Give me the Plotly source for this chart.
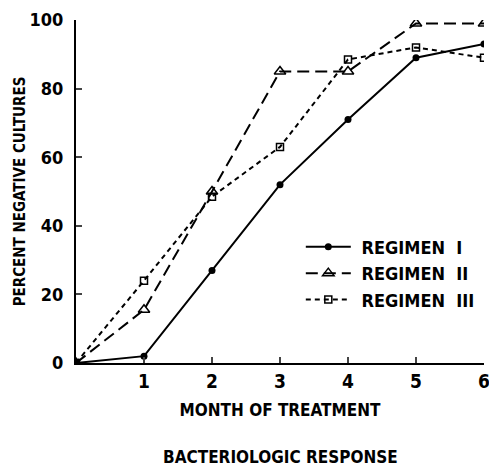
import plotly.graph_objects as go

months = [0, 1, 2, 3, 4, 5, 6]
regimen_1 = [0, 2, 27, 52, 71, 89, 93]
regimen_2 = [0, 15.5, 50, 85, 85, 99, 99]
regimen_3 = [0, 24, 48.5, 63, 88.5, 92, 89]
names = [" REGIMEN  I", " REGIMEN  II", " REGIMEN  III"]

FONT = "DejaVu Sans Condensed, Liberation Sans Narrow, Arial Narrow, sans-serif"

fig = go.Figure()
fig.add_trace(go.Scatter(
    x=months, y=regimen_1, name=names[0], mode="lines+markers",
    line=dict(color="black", width=2, dash="solid"),
    marker=dict(symbol="circle", size=7, color="black"),
))
fig.add_trace(go.Scatter(
    x=months, y=regimen_2, name=names[1], mode="lines+markers",
    line=dict(color="black", width=2, dash="12px,6px"),
    marker=dict(symbol="triangle-up-open", size=10, color="black", line=dict(width=1.5)),
))
fig.add_trace(go.Scatter(
    x=months, y=regimen_3, name=names[2], mode="lines+markers",
    line=dict(color="black", width=2, dash="5px,4px"),
    marker=dict(symbol="square-open", size=7, color="black", line=dict(width=1.5)),
))

fig.update_layout(
    width=489, height=468,
    margin=dict(l=76, r=5, t=20, b=105),
    paper_bgcolor="white", plot_bgcolor="white",
    font=dict(family=FONT, color="black", size=18, weight="bold"),
    showlegend=True,
    legend=dict(
        x=0.551, y=0.392, xanchor="left", yanchor="top",
        bgcolor="rgba(0,0,0,0)", itemwidth=45,
        font=dict(family=FONT, size=18, weight="bold"),
        tracegroupgap=0,
    ),
    xaxis=dict(
        range=[0, 6], tickvals=[1, 2, 3, 4, 5, 6], ticks="inside", ticklen=6,
        tickwidth=1.5, showline=True, linecolor="black", linewidth=2,
        showgrid=False, zeroline=False, mirror=False,
        ticklabeloverflow="allow", automargin=False,
        title=dict(text="MONTH OF TREATMENT", font=dict(size=17, weight="bold"), standoff=13),
        tickfont=dict(size=19, weight="bold"),
    ),
    yaxis=dict(
        range=[0, 100], tickvals=[0, 20, 40, 60, 80, 100], ticks="inside", ticklen=6,
        tickwidth=1.5, showline=True, linecolor="black", linewidth=2,
        showgrid=False, zeroline=False, automargin=False,
        title=dict(text="PERCENT NEGATIVE CULTURES", font=dict(size=15, weight="bold"), standoff=0),
        tickfont=dict(size=18, weight="bold"),
        ticklabelstandoff=7,
    ),
    annotations=[dict(
        text="BACTERIOLOGIC RESPONSE", xref="paper", yref="paper",
        x=0.5, y=-0.275, xanchor="center", yanchor="middle", showarrow=False,
        font=dict(size=17, weight="bold"),
    )],
)

fig.write_html("out.html")
